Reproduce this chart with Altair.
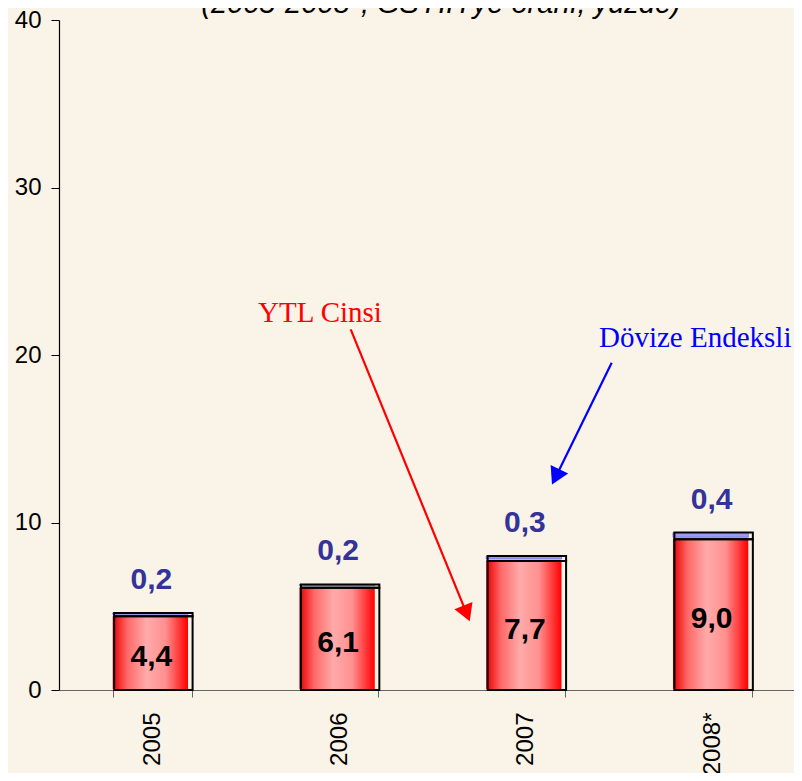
import altair as alt
import pandas as pd

years = ["2005", "2006", "2007", "2008*"]
ytl = [4.4, 6.1, 7.7, 9.0]
doviz = [0.2, 0.2, 0.3, 0.4]
y_ticks = [0, 10, 20, 30, 40]
title_text = "(2005-2008*, GSYİH'ye oranı, yüzde)"
ann_ytl = "YTL Cinsi"
ann_doviz = "Dövize Endeksli"

def fmt(v):
    return f"{v:.1f}".replace(".", ",")

rows = []
for yr, a, b in zip(years, ytl, doviz):
    rows.append({"year": yr, "seg": "YTL", "start": 0.0, "end": a, "mid": a / 2, "label": fmt(a)})
    rows.append({"year": yr, "seg": "DOV", "start": a, "end": round(a + b, 2), "mid": a + b, "label": fmt(b)})
df = pd.DataFrame(rows)

FONT = "Liberation Sans"
SERIF = "Liberation Serif"
BG = "#FAF3E8"

xenc = alt.X(
    "year:N",
    sort=years,
    title=None,
    scale=alt.Scale(paddingInner=0.58, paddingOuter=0.29, range=[0, 747]),
    axis=alt.Axis(
        labelAngle=-90,
        labelFontSize=24,
        labelFont=FONT,
        labelColor="black",
        labelPadding=15,
        tickBand="extent",
        tickSize=7,
        tickColor="#666666",
        domainColor="#666666",
        domainWidth=1.2,
        grid=False,
    ),
)
yscale = alt.Scale(domain=[0, 40], nice=False)
yenc = alt.Y(
    "start:Q",
    scale=yscale,
    title=None,
    axis=alt.Axis(
        values=y_ticks,
        labelFontSize=24,
        labelFont=FONT,
        labelColor="black",
        labelPadding=10,
        tickSize=8,
        tickColor="black",
        domainColor="black",
        domainWidth=1.2,
        grid=False,
    ),
)

base = alt.Chart(df)

red_grad = alt.LinearGradient(
    gradient="linear",
    x1=0, x2=1, y1=0, y2=0,
    stops=[
        alt.GradientStop(color="#E80000", offset=0),
        alt.GradientStop(color="#FF6A6A", offset=0.2),
        alt.GradientStop(color="#FFAAAA", offset=0.45),
        alt.GradientStop(color="#FF9090", offset=0.7),
        alt.GradientStop(color="#FF0000", offset=1),
    ],
)

ytl_fill = base.transform_filter(alt.datum.seg == "YTL").mark_bar(
    color=red_grad, width=alt.RelativeBandSize(0.96), xOffset=-2, yOffset=-1
).encode(x=xenc, y=yenc, y2="end:Q")

dov_fill = base.transform_filter(alt.datum.seg == "DOV").mark_bar(
    color="#9C9CF2", stroke="#6C6CE0", strokeWidth=0.8,
    width=alt.RelativeBandSize(0.96), xOffset=-2, yOffset=-2
).encode(x=xenc, y=yenc, y2="end:Q")

outline = base.mark_bar(
    filled=False, stroke="black", strokeWidth=2, xOffset=1
).encode(x=xenc, y=yenc, y2="end:Q")

ytl_lbl = base.transform_filter(alt.datum.seg == "YTL").mark_text(
    font=FONT, fontSize=30, fontWeight="bold", color="black", baseline="middle", dy=4, dx=-1
).encode(x=alt.X("year:N", sort=years), y=alt.Y("mid:Q", scale=yscale), text="label:N")

dov_lbl = base.transform_filter(alt.datum.seg == "DOV").mark_text(
    font=FONT, fontSize=30, fontWeight="bold", color="#333399", baseline="middle", dy=-33, dx=-1
).encode(x=alt.X("year:N", sort=years), y=alt.Y("mid:Q", scale=yscale), text="label:N")

one = alt.Chart(pd.DataFrame({"t": [title_text]}))

title = one.mark_text(
    font=FONT, fontSize=29, fontStyle="italic", color="black", align="center", baseline="alphabetic"
).encode(x=alt.value(382), y=alt.value(-7), text="t:N")

ann = alt.Chart(pd.DataFrame({"a": [ann_ytl], "b": [ann_doviz]}))
ytl_text = ann.mark_text(font=SERIF, fontSize=29, color="#FF0000", align="center", baseline="alphabetic").encode(
    x=alt.value(261), y=alt.value(302), text="a:N")
dov_text = ann.mark_text(font=SERIF, fontSize=29, color="#0000FF", align="left", baseline="alphabetic").encode(
    x=alt.value(540), y=alt.value(327), text="b:N")

red_line = ann.mark_rule(color="#FF0000", strokeWidth=2.2).encode(
    x=alt.value(291.7), y=alt.value(309.3), x2=alt.value(407.6), y2=alt.value(593.4))
red_head = ann.mark_point(shape="triangle-up", filled=True, color="#FF0000", size=380, angle=158, opacity=1).encode(
    x=alt.value(407.6), y=alt.value(593.4))
blue_line = ann.mark_rule(color="#0000FF", strokeWidth=2.2).encode(
    x=alt.value(552.7), y=alt.value(342.7), x2=alt.value(496.7), y2=alt.value(456.9))
blue_head = ann.mark_point(shape="triangle-up", filled=True, color="#0000FF", size=380, angle=206, opacity=1).encode(
    x=alt.value(496.7), y=alt.value(456.9))

chart = alt.layer(
    ytl_fill, dov_fill, outline, ytl_lbl, dov_lbl, title,
    red_line, red_head, blue_line, blue_head, ytl_text, dov_text
).properties(
    width=735,
    height=670,
    background=BG,
    autosize=alt.AutoSizeParams(type="none"),
    padding={"left": 51, "top": 12, "right": 0, "bottom": 83},
).configure_view(stroke=None, fill=BG)

chart.save("out.html", embed_options={"renderer": "svg", "actions": False})
